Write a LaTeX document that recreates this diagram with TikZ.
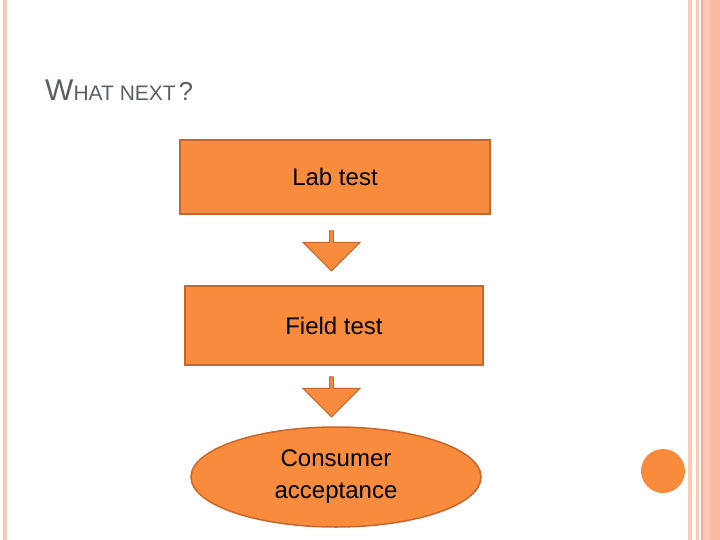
\documentclass[tikz,border=0pt]{standalone}
\usepackage{fontspec}
\setmainfont{Liberation Sans}
\usetikzlibrary{shapes.geometric, shapes.arrows, positioning}
\definecolor{boxfill}{HTML}{F88B3C}
\definecolor{boxline}{HTML}{C9662C}
\definecolor{stripe}{HTML}{FAC8B4}
\definecolor{stripedark}{HTML}{F6A98C}
\definecolor{titlegray}{HTML}{5A5F63}
\tikzstyle{block} = [rectangle, draw=boxline, line width=1.5pt, fill=boxfill, text centered, font=\fontsize{24}{28}\selectfont]
\tikzstyle{downarrow} = [single arrow, draw=boxline, line width=1pt, fill=boxfill, shape border rotate=270, minimum height=40pt, minimum width=57pt, single arrow head extend=7.5pt, single arrow head indent=0pt, inner sep=0pt]

\begin{document}
\begin{tikzpicture}[x=1pt, y=-1pt]
	\useasboundingbox (0,0) rectangle (720,540);

	% Slide border
	\fill[stripe] (3,0) rectangle (7,540);
	\fill[stripe] (688,0) rectangle (692,540);
	\fill[stripe] (696,0) rectangle (699,540);
	\fill[stripedark] (701,0) rectangle (703,540);
	\fill[stripe] (703,0) rectangle (710,540);
	\fill[stripedark!80] (710,0) rectangle (720,540);

	% Title
	\node (title) [anchor=base west, text=titlegray, inner sep=0pt] at (45,101) {{\fontsize{30}{34}\selectfont W}{\fontsize{21}{24}\selectfont HAT NEXT} {\fontsize{26}{30}\selectfont ?}};

	% Steps
	\node (lab) [block, minimum width=310pt, minimum height=74pt] at (335,177) {Lab test};
	\node (field) [block, minimum width=298pt, minimum height=79pt] at (334,325.5) {Field test};
	\node (consumer) [ellipse, draw=boxline, line width=1.5pt, fill=boxfill, minimum width=290pt, minimum height=100pt, align=center, font=\fontsize{24}{32}\selectfont] at (336,477) {Consumer\\acceptance};

	% Arrows between steps
	\node (arr1) [downarrow] at (331.5,250) {};
	\node (arr2) [downarrow] at (331.5,396) {};

	% Corner dot
	\node (dot) [circle, fill=boxfill, minimum size=44pt, inner sep=0pt] at (663,471) {};

\end{tikzpicture}
\end{document}
